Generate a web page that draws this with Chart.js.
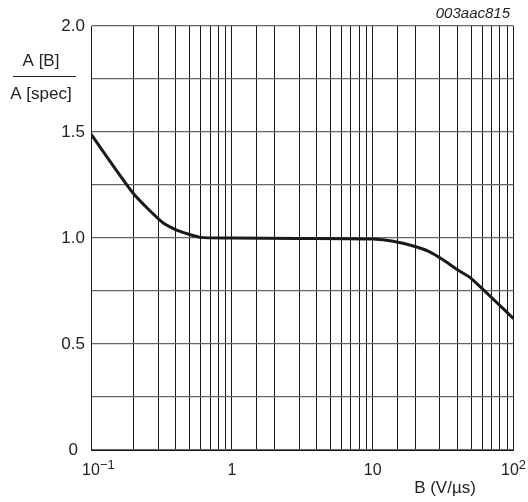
<!DOCTYPE html>
<html>
<head>
<meta charset="utf-8">
<script src="https://cdn.jsdelivr.net/npm/chart.js@4"></script>
<style>
  html, body { margin: 0; padding: 0; background: #fff; }
  #wrap { width: 528px; height: 502px; }
</style>
</head>
<body>
<div id="wrap"><canvas id="grafico" width="528" height="502"></canvas></div>
<script>
// slew rate B (V/us) on the x axis, ratio A[B]/A[spec] on the y axis
const slewRates = [0.1, 0.2, 0.32, 0.41, 0.6, 1, 3, 10, 14, 20, 25, 32, 40, 50, 100];
const ampRatio  = [1.49, 1.21, 1.075, 1.036, 1.003, 1.0, 0.998, 0.995, 0.985, 0.96, 0.937, 0.895, 0.85, 0.81, 0.62];

// tick labels
const yTickValues = [0, 0.5, 1.0, 1.5, 2.0];
const yTickLabels = ['0', '0.5', '1.0', '1.5', '2.0'];
const xTickValues = [0.1, 1, 10, 100];
const xTickBase   = ['10', '1', '10', '10'];
const xTickExp    = ['\u22121', '', '', '2'];

const fonte = '"Liberation Sans", Arial, sans-serif';

// draws the x labels with exponents, the axis titles and the figure code
const textos = {
    id: 'textos',
    afterDraw(chart) {
        const ctx = chart.ctx;
        const x = chart.scales.x;
        ctx.save();
        ctx.fillStyle = '#222';
        ctx.textBaseline = 'middle';

        // x tick labels 10^n
        xTickValues.forEach((v, i) => {
            const px = x.getPixelForValue(v);
            ctx.font = '16px ' + fonte;
            const wb = ctx.measureText(xTickBase[i]).width;
            ctx.font = '13px ' + fonte;
            const we = xTickExp[i] ? ctx.measureText(xTickExp[i]).width : 0;
            // first label: base centred on the tick, others: whole label centred
            const start = i === 0 ? px - wb / 2 : px - (wb + we) / 2;
            ctx.textAlign = 'left';
            ctx.font = '16px ' + fonte;
            ctx.fillText(xTickBase[i], start, 471);
            if (xTickExp[i]) {
                ctx.font = '13px ' + fonte;
                ctx.fillText(xTickExp[i], start + wb, 465);
            }
        });

        // x axis title
        ctx.font = '17px ' + fonte;
        ctx.textAlign = 'center';
        ctx.fillText('B (V/\u00b5s)', 445, 488);

        // y axis title as a fraction
        ctx.fillText('A [B]', 41, 61);
        ctx.fillText('A [spec]', 41, 94);
        ctx.strokeStyle = '#222';
        ctx.lineWidth = 1.2;
        ctx.beginPath();
        ctx.moveTo(13, 76.5);
        ctx.lineTo(76, 76.5);
        ctx.stroke();

        // figure code
        ctx.font = 'italic 15px ' + fonte;
        ctx.textAlign = 'right';
        ctx.fillText('003aac815', 510, 14);
        ctx.restore();
    }
};

let grafico = document.getElementById('grafico').getContext('2d');
let chart = new Chart(grafico, {
    type: 'line',
    data: {
        datasets: [
            {
                label: 'A[B]/A[spec]',
                data: slewRates.map((b, i) => ({ x: b, y: ampRatio[i] })),
                borderColor: '#1a1a1a',
                borderWidth: 3,
                pointRadius: 0,
                tension: 0.2,
                fill: false
            }
        ]
    },
    options: {
        responsive: false,
        animation: false,
        events: [],
        layout: { padding: { left: 0, top: 26, right: 14.5, bottom: 0 } },
        plugins: {
            legend: { display: false },
            tooltip: { enabled: false }
        },
        scales: {
            x: {
                type: 'logarithmic',
                min: 0.1,
                max: 100,
                grid: { color: '#1a1a1a', lineWidth: 1, drawTicks: false },
                border: { color: '#1a1a1a', width: 1 },
                ticks: { display: false, autoSkip: false },
                afterFit(scale) { scale.height = 52; }
            },
            y: {
                min: 0,
                max: 2,
                grid: { color: '#666', lineWidth: 1.2, drawTicks: false },
                border: { color: '#1a1a1a', width: 1 },
                ticks: {
                    stepSize: 0.25,
                    autoSkip: false,
                    crossAlign: 'center',
                    padding: 6,
                    color: '#222',
                    font: { family: fonte, size: 17 },
                    callback: (v) => {
                        const k = yTickValues.findIndex(t => Math.abs(t - v) < 1e-9);
                        return k >= 0 ? yTickLabels[k] : '';
                    }
                },
                afterFit(scale) { scale.width = 91; }
            }
        }
    },
    plugins: [textos]
});
</script>
</body>
</html>
